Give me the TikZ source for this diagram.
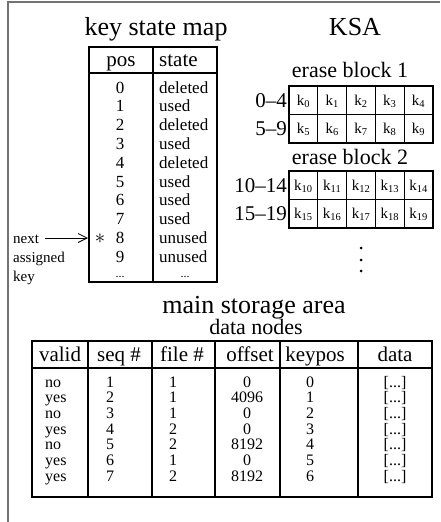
\documentclass[tikz,border=0pt]{standalone}
\usepackage{fontspec}
\setmainfont{Liberation Serif}
\usetikzlibrary{arrows.meta}
\newcommand{\fs}[1]{\fontsize{#1}{#1}\selectfont}
\newcommand{\kx}[1]{k\textsubscript{#1}}
\begin{document}
\begin{tikzpicture}[x=1pt,y=-1pt,
  rule/.style={line width=1.1pt},
  frameline/.style={line width=2pt,draw=black!55},
  title/.style={font=\fs{26},anchor=base,inner sep=0pt},
  subtitle/.style={font=\fs{22},anchor=base,inner sep=0pt},
  head/.style={font=\fs{21},anchor=base,inner sep=0pt},
  cell/.style={font=\fs{17},anchor=base,inner sep=0pt},
  note/.style={font=\fs{15},anchor=base west,inner sep=0pt},
  rowlab/.style={font=\fs{21},anchor=base east,inner sep=0pt},
  kcell/.style={font=\fs{15},anchor=center,inner sep=0pt},
  dat/.style={font=\fs{16},anchor=base,inner sep=0pt},
  dot/.style={circle,fill,inner sep=0pt,minimum size=3pt}]
\useasboundingbox (0,0) rectangle (440,522);
% page frame: left and top edges only
\draw[frameline] (8,522) -- (8,2) -- (440,2);

% ---------------- key state map ----------------
\node[title] (ksmtitle) at (156,35) {key state map};
\draw[rule] (89,47) rectangle (217,282);
\draw[rule] (89,73) -- (217,73);
\draw[rule] (153,47) -- (153,282);
\node[head] (hpos) at (121,66) {pos};
\node[head,anchor=base west] (hstate) at (159,66) {state};
\foreach \s [count=\i from 0] in {deleted,used,deleted,used,deleted,used,used,used,unused,unused}{
  \node[cell] (p\i) at (120,{93+18.8*\i}) {\i};
  \node[cell,anchor=base west] (s\i) at (159,{93+18.8*\i}) {\s};
}
\node[cell,font=\fs{12}] (pdots) at (120,277) {...};
\node[cell,font=\fs{12}] (sdots) at (185,277) {...};
\node[cell,font=\fs{22}] (star) at (100,{93.5+18.8*8}) {$\ast$};
\node[note] (nnext) at (13,243) {next};
\node[note] (nassigned) at (13,262) {assigned};
\node[note] (nkey) at (13,281) {key};
\coordinate (arrfrom) at (45,238);
\coordinate (arrto) at (88,238);
\draw[line width=0.8pt,-{Straight Barb[length=9pt,width=9pt]}] (arrfrom) -- (arrto);

% ---------------- KSA ----------------
\node[title] (ksatitle) at (355,35) {KSA};
\node[subtitle] (eb1) at (350,77) {erase block 1};
\node[subtitle] (eb2) at (350,164) {erase block 2};
\foreach \top/\lo/\hi/\la/\lb [count=\b] in {86/0/5/0--4/5--9, 171/10/15/10--14/15--19}{
  \draw[rule] (289,\top) rectangle (433,\top+57);
  \draw[rule] (289,\top+28.5) -- (433,\top+28.5);
  \foreach \c in {1,...,4}{
    \draw[rule] ({289+28.8*\c},\top) -- ({289+28.8*\c},\top+57);
  }
  \node[rowlab] (rla\b) at (287,\top+21) {\la};
  \node[rowlab] (rlb\b) at (287,\top+49.5) {\lb};
  \foreach \c in {0,...,4}{
    \pgfmathtruncatemacro{\ka}{\lo+\c}
    \pgfmathtruncatemacro{\kb}{\hi+\c}
    \node[kcell] (ka\ka) at ({303.4+28.8*\c},\top+15) {\kx{\ka}};
    \node[kcell] (kb\kb) at ({303.4+28.8*\c},\top+43.5) {\kx{\kb}};
  }
}
\node[dot] (d1) at (361,248) {};
\node[dot] (d2) at (361,260) {};
\node[dot] (d3) at (361,271) {};

% ---------------- main storage area ----------------
\node[title] (mstitle) at (254,313) {main storage area};
\node[subtitle] (dntitle) at (256,334) {data nodes};
\draw[rule] (32,341) rectangle (432,497);
\draw[rule] (32,368) -- (432,368);
\foreach \x in {88,152,215,280,358}{
  \draw[rule] (\x,341) -- (\x,497);
}
\node[head] (hvalid) at (60,361) {valid};
\node[head] (hseq) at (119,361) {seq \#};
\node[head] (hfile) at (182,361) {file \#};
\node[head] (hoffset) at (250,361) {offset};
\node[head] (hkeypos) at (315,361) {keypos};
\node[head] (hdata) at (395,361) {data};
\foreach \v/\f/\o [count=\i from 0] in {no/1/0, yes/1/4096, no/1/0, yes/2/0, no/2/8192, yes/1/0, yes/2/8192}{
  \pgfmathtruncatemacro{\sq}{\i+1}
  \node[dat,anchor=base west] (dv\i) at (45,{387+15.7*\i}) {\v};
  \node[dat] (dq\i) at (110,{387+15.7*\i}) {\sq};
  \node[dat] (df\i) at (173,{387+15.7*\i}) {\f};
  \node[dat] (do\i) at (247,{387+15.7*\i}) {\o};
  \node[dat] (dk\i) at (310,{387+15.7*\i}) {\i};
  \node[dat] (dd\i) at (395,{387+15.7*\i}) {[...]};
}
\end{tikzpicture}
\end{document}
